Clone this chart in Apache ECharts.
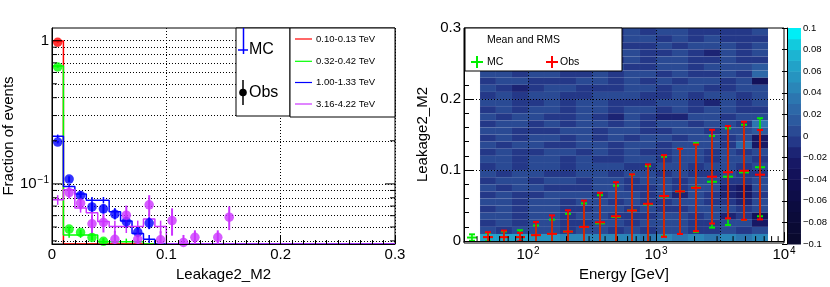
<!DOCTYPE html>
<html><head><meta charset="utf-8">
<script src="https://cdn.jsdelivr.net/npm/echarts@6/dist/echarts.min.js"></script>
<style>html,body{margin:0;padding:0;background:#fff}#c{width:830px;height:287px}</style>
</head><body><div id="c"></div>
<script>
const FONT = 'Liberation Sans, Arial, Helvetica, sans-serif';

// ---------------- Left panel: Leakage2_M2 distributions ----------------
const leakBin = 0.01;           // bin width
const nLeakBins = 30;           // 0 .. 0.3
const energyLabels = ['0.10-0.13 TeV', '0.32-0.42 TeV', '1.00-1.33 TeV', '3.16-4.22 TeV'];
const colors = ['#ff0000', '#00ff00', '#0000ff', '#cc33ff'];

const mcRed      = [0.995];
const mcRedErr   = [0.006];
const obsRed     = [0.975];
const obsRedErr  = [0.006];

const mcGreen     = [0.665, 0.044, 0.044, 0.044, 0.0395, 0.0395, 0.0395, 0.0395];
const mcGreenErr  = [0.008, 0.002, 0.002, 0.002, 0.002, 0.002, 0.002, 0.002];
const obsGreen    = [0.655, 0.0484, 0.0458, 0.0423, 0.0397];
const obsGreenErr = [0.008, 0.002, 0.002, 0.002, 0.002];

const mcBlue     = [0.215, 0.096, 0.085, 0.077, 0.077, 0.064, 0.055, 0.045, 0.041];
const mcBlueErr  = [0.006, 0.004, 0.004, 0.004, 0.004, 0.004, 0.004, 0.003, 0.003];
const obsBlue    = [0.196, 0.108, 0.083, 0.069, 0.067, 0.0615, 0.0546, 0.046, 0.0533];
const obsBlueErr = [0.004, 0.005, 0.005, 0.005, 0.005, 0.005, 0.005, 0.004, 0.005];

const mcMag     = [0.0774, 0.091, 0.068, 0.063, 0.0546, 0.0504, 0.0504, 0.0504, 0.0568, 0.0504];
const mcMagErr  = [0.006, 0.006, 0.005, 0.005, 0.005, 0.005, 0.005, 0.005, 0.005, 0.005];
const obsMag    = [0, 0.087, 0.0734, 0.0527, 0.0538, 0.041, 0.0605, 0.041, 0.0714, 0.0407, 0.0555, 0.039, 0.0424, 0, 0.0424, 0.0586];
const obsMagErr = [0, 0.008, 0.007, 0.008, 0.008, 0.006, 0.010, 0.007, 0.012, 0.006, 0.012, 0.005, 0.005, 0, 0.005, 0.011];

const yMinL = 0.03805, yMaxL = 1.226;
const leftGridVals = [0.04, 0.05, 0.06, 0.07, 0.08, 0.09, 0.1, 0.2, 0.3, 0.4, 0.5, 0.6, 0.7, 0.8, 0.9, 1];

// ---------------- Right panel: mean & RMS vs energy ----------------
const energyGeV = [36.5, 48.7, 64.9, 86.6, 115.5, 154.0, 205.4, 273.8, 365.2, 487.0, 649.4, 866.0, 1154.8, 1539.9, 2053.5, 2738.4, 3651.7, 4869.7, 6493.8];
const mcMean = [0.005, 0.0056, 0.0056, 0.0056, 0.0084, 0.0102, 0.0134, 0.020, 0.025, 0.034, 0.043, 0.0516, 0.0628, 0.070, 0.0755, 0.0835, 0.0907, 0.0967, 0.104];
const mcRms  = [0.0045, 0.006, 0.008, 0.0097, 0.0136, 0.020, 0.025, 0.033, 0.0396, 0.044, 0.0505, 0.054, 0.056, 0.060, 0.0625, 0.0645, 0.068, 0.067, 0.069];
const obsMean = [null, 0.0056, 0.0056, 0.0056, 0.0084, 0.0102, 0.0134, 0.020, 0.0265, 0.035, 0.043, 0.0525, 0.0635, 0.070, 0.075, 0.0907, 0.097, 0.099, 0.0935];
const obsRms  = [null, 0.007, 0.0092, 0.006, 0.0186, 0.026, 0.030, 0.037, 0.0415, 0.048, 0.051, 0.0555, 0.0575, 0.060, 0.061, 0.066, 0.065, 0.069, 0.063];

// heat map (difference) : column edges in GeV, rows of 0.01 in Leakage2_M2
const heatXEdges = [42.2, 56.2, 75.0, 100, 133.4, 177.8, 237.1, 316.2, 421.7, 562.3, 749.9, 1000, 1333.5, 1778.3, 2371.4, 3162.3, 4217, 5623.4, 7498.9];
const heatYStep = 0.01;
// level codes: a=-0.035 b=-0.025 c=-0.015 d=-0.005 e=0.005 f=0.015 g=0.025 h=0.035 i=0.045 j=0.055 k=0.065
const heatCodes = { a: -0.035, b: -0.025, c: -0.015, d: -0.005, e: 0.005, f: 0.015, g: 0.025, h: 0.035, i: 0.045, j: 0.055, k: 0.065 };
const heatRowsTopDown = [
  'eddedeeddedeedddde',
  'dedeededdeedededdd',
  'edeeddeedddedeeede',
  'deddeedeeeddedcede',
  'eedeededdedeeddedd',
  'dedeedededdeedeeef',
  'eedeeddedeededdedg',
  'deedddeedededeedea',
  'edcdeedddeedeeddee',
  'dedeeddeeeddedeede',
  'eeddedeedddeedcede',
  'dedeedeedeededeedd',
  'edeeddedcedcceedee',
  'deededeededeedeedh',
  'eedddeedeeddeedeef',
  'dedeedededeedeedeb',
  'edeeddeedeedeeedgb',
  'deddeedededdeedede',
  'eedeededdeedeedeed',
  'dedeedeeeddeedeede',
  'edeeddeedeededdedd',
  'deedeedeedeedeedde',
  'edeedddeeddedeecbe',
  'deddeeedeedecedcbd',
  'eedeedeededdeeddce',
  'dedeeddeededdeeede',
  'eedeedeedddeedecda',
  'dedeeddeedeeeddeeb',
  'edeeedeededeeddede',
  'kkkjjiiiiihihihihi'
];
const energyVGrid = [100, 316.2, 1000, 3162.3];
const logMinorE = [40, 50, 60, 70, 80, 90, 200, 300, 400, 500, 600, 700, 800, 900, 2000, 3000, 4000, 5000, 6000, 7000, 8000, 9000];

// colour scale
const zLevels = [-0.1, -0.09, -0.08, -0.07, -0.06, -0.05, -0.04, -0.03, -0.02, -0.01, 0, 0.01, 0.02, 0.03, 0.04, 0.05, 0.06, 0.07, 0.08, 0.09, 0.1];
const zColors = ['#09092e', '#0a0a34', '#0b0b3a', '#0c0c40', '#0e0d48', '#100e50', '#13125a', '#171865', '#1c2474', '#243888',
                 '#2a4a94', '#2c5a9f', '#2d68a8', '#2c76b0', '#2a86b8', '#2694c0', '#22a2c8', '#1cb4d2', '#12cadd', '#00eef6'];

// ---------------- build ----------------
function stepPts(vals) {
  const pts = [];
  for (let i = 0; i < nLeakBins; i++) { const v = vals[i] || 0; pts.push([i * leakBin, v > 0 ? v : yMinL]); }
  const last = vals[nLeakBins - 1] || 0;
  pts.push([nLeakBins * leakBin, last > 0 ? last : yMinL]);
  return pts;
}
function errPts(vals, errs) {
  const out = [];
  vals.forEach((v, i) => { if (v > 0 && errs[i] > 0) out.push([(i + 0.5) * leakBin, v, errs[i]]); });
  return out;
}
function dotPts(vals) {
  const out = [];
  vals.forEach((v, i) => { if (v > 0) out.push([(i + 0.5) * leakBin, v]); });
  return out;
}
function vErrRender(color, lw) {
  return function (params, api) {
    const x = api.value(0), v = api.value(1), e = api.value(2);
    const a = api.coord([x, v - e]), b = api.coord([x, v + e]);
    return { type: 'line', shape: { x1: a[0], y1: a[1], x2: b[0], y2: b[1] }, style: { stroke: color, lineWidth: lw } };
  };
}

const sets = [
  [mcRed, mcRedErr, obsRed, obsRedErr],
  [mcGreen, mcGreenErr, obsGreen, obsGreenErr],
  [mcBlue, mcBlueErr, obsBlue, obsBlueErr],
  [mcMag, mcMagErr, obsMag, obsMagErr]
];

const series = [];
// grid lines left (dotted)
series.push({
  type: 'line', xAxisIndex: 0, yAxisIndex: 0, data: [], silent: true,
  markLine: {
    silent: true, symbol: ['none', 'none'], animation: false, label: { show: false },
    lineStyle: { color: '#000', width: 1, type: [1, 2] },
    data: leftGridVals.map(v => ({ yAxis: v }))
  }
});
// left minor ticks (log)
series.push({
  type: 'custom', xAxisIndex: 0, yAxisIndex: 0, z: 9, silent: true,
  data: leftGridVals.map(v => [0, v]),
  renderItem: function (params, api) {
    const v = api.value(1);
    const l = api.coord([0, v]), r = api.coord([0.3, v]);
    const len = (Math.abs(v - 0.1) < 1e-9 || Math.abs(v - 1) < 1e-9) ? 10 : 5;
    return { type: 'group', children: [
      { type: 'line', shape: { x1: l[0], y1: l[1], x2: l[0] + len, y2: l[1] }, style: { stroke: '#000', lineWidth: 1 } },
      { type: 'line', shape: { x1: r[0], y1: r[1], x2: r[0] - len, y2: r[1] }, style: { stroke: '#000', lineWidth: 1 } }
    ] };
  }
});
sets.forEach((s, k) => {
  series.push({
    type: 'line', xAxisIndex: 0, yAxisIndex: 0, step: 'end', data: stepPts(s[0]), showSymbol: false, z: 6,
    lineStyle: { color: colors[k], width: 1.5 }, silent: true, animation: false
  });
  series.push({
    type: 'custom', xAxisIndex: 0, yAxisIndex: 0, data: errPts(s[0], s[1]), z: 6, clip: true, silent: true,
    renderItem: vErrRender(colors[k], 1.5)
  });
});
sets.forEach((s, k) => {
  series.push({
    type: 'custom', xAxisIndex: 0, yAxisIndex: 0, data: errPts(s[2], s[3]), z: 7, clip: true, silent: true,
    renderItem: vErrRender(colors[k], 2)
  });
  series.push({
    type: 'scatter', xAxisIndex: 0, yAxisIndex: 0, data: dotPts(s[2]), symbol: 'circle', symbolSize: 9.5, z: 8,
    itemStyle: { color: colors[k] }, silent: true, animation: false
  });
});

// heat map cells
const heatData = [];
const nRows = heatRowsTopDown.length;
heatRowsTopDown.forEach((row, ri) => {
  const r = nRows - 1 - ri;
  for (let c = 0; c < row.length; c++) {
    heatData.push([heatXEdges[c], heatXEdges[c + 1], r * heatYStep, (r + 1) * heatYStep, heatCodes[row[c]]]);
  }
});
const heatIdx = series.length;
series.push({
  type: 'custom', xAxisIndex: 1, yAxisIndex: 1, data: heatData, z: 1, clip: true, silent: true,
  encode: { x: [0, 1], y: [2, 3] },
  renderItem: function (params, api) {
    const p0 = api.coord([api.value(0), api.value(2)]);
    const p1 = api.coord([api.value(1), api.value(3)]);
    return { type: 'rect', shape: { x: p0[0], y: p1[1], width: p1[0] - p0[0], height: p0[1] - p1[1] },
      style: { fill: api.visual('color'), stroke: 'rgba(120,150,210,0.08)', lineWidth: 0.5 } };
  }
});
// right grid lines
series.push({
  type: 'line', xAxisIndex: 1, yAxisIndex: 1, data: [], silent: true,
  markLine: {
    silent: true, symbol: ['none', 'none'], animation: false, label: { show: false },
    lineStyle: { color: '#000', width: 1, type: [1, 2] },
    data: energyVGrid.map(v => ({ xAxis: v })).concat([{ yAxis: 0.1 }, { yAxis: 0.2 }])
  }
});
function meanRmsRender(color) {
  return function (params, api) {
    const x = api.value(0), m = api.value(1), r = api.value(2);
    const pm = api.coord([x, m]), pt = api.coord([x, m + r]), pb = api.coord([x, m - r]);
    const L = (x1, y1, x2, y2, w) => ({ type: 'line', shape: { x1, y1, x2, y2 }, style: { stroke: color, lineWidth: w } });
    return { type: 'group', children: [
      L(pt[0], pt[1], pb[0], pb[1], 1.6),
      L(pt[0] - 3, pt[1], pt[0] + 3, pt[1], 2),
      L(pb[0] - 3, pb[1], pb[0] + 3, pb[1], 2),
      L(pm[0] - 5, pm[1], pm[0] + 5, pm[1], 2)
    ] };
  };
}
series.push({
  type: 'custom', xAxisIndex: 1, yAxisIndex: 1, z: 6, clip: true, silent: true,
  data: energyGeV.map((e, i) => [e, mcMean[i], mcRms[i]]),
  renderItem: meanRmsRender('#00ee00')
});
series.push({
  type: 'custom', xAxisIndex: 1, yAxisIndex: 1, z: 7, clip: true, silent: true,
  data: energyGeV.map((e, i) => [e, obsMean[i], obsRms[i]]).filter(d => d[1] != null),
  renderItem: meanRmsRender('#ff0000')
});
// right minor x ticks
series.push({
  type: 'custom', xAxisIndex: 1, yAxisIndex: 1, z: 11, silent: true,
  data: logMinorE.map(e => [e, 0]),
  renderItem: function (params, api) {
    const p = api.coord([api.value(0), 0]);
    return { type: 'line', shape: { x1: p[0], y1: p[1], x2: p[0], y2: p[1] - 5 }, style: { stroke: '#000', lineWidth: 1 } };
  }
});
// colour bar
const cbarIdx = series.length;
const cbarData = [];
for (let i = 0; i < zColors.length; i++) cbarData.push([0, 1, zLevels[i], zLevels[i + 1], (zLevels[i] + zLevels[i + 1]) / 2]);
series.push({
  type: 'custom', xAxisIndex: 2, yAxisIndex: 2, data: cbarData, z: 1, silent: true,
  encode: { x: [0, 1], y: [2, 3] },
  renderItem: function (params, api) {
    const p0 = api.coord([api.value(0), api.value(2)]);
    const p1 = api.coord([api.value(1), api.value(3)]);
    return { type: 'rect', shape: { x: p0[0], y: p1[1], width: p1[0] - p0[0], height: p0[1] - p1[1] + 0.5 }, style: { fill: api.visual('color') } };
  }
});

const pieces = zColors.map((c, i) => ({ min: zLevels[i], max: zLevels[i + 1], color: c }));

const txt = { color: '#000', fontFamily: FONT };
const supRich = { s: { fontSize: 10, fontFamily: FONT, color: '#000', verticalAlign: 'top', lineHeight: 10, padding: [0, 0, 0, 1] }, b: { fontSize: 15, fontFamily: FONT, color: '#000', lineHeight: 17 } };
function fmtNum(v) { const s = String(+Math.abs(v).toFixed(2)); return v < 0 ? '\u2212' + s : s; }

const option = {
  animation: false,
  backgroundColor: '#fff',
  grid: [
    { left: 49, top: 28, width: 346, height: 216, show: true, borderColor: '#000', borderWidth: 1, backgroundColor: 'transparent' },
    { left: 464, top: 28, width: 320, height: 215, show: false },
    { left: 787, top: 28, width: 18, height: 216, show: false }
  ],
  visualMap: [{ type: 'piecewise', show: false, dimension: 4, seriesIndex: [heatIdx, cbarIdx], pieces: pieces }],
  xAxis: [
    { gridIndex: 0, type: 'value', min: 0, max: 0.3, interval: 0.1, z: 10,
      name: 'Leakage2_M2', nameLocation: 'middle', nameGap: 21, nameTextStyle: Object.assign({ fontSize: 15 }, txt),
      axisLine: { lineStyle: { color: '#000' } },
      axisTick: { inside: true, length: 9, lineStyle: { color: '#000' } },
      minorTick: { show: true, splitNumber: 10, length: 4, lineStyle: { color: '#000' } },
      axisLabel: Object.assign({ fontSize: 15, margin: 3, formatter: v => fmtNum(v) }, txt),
      splitLine: { show: true, lineStyle: { color: '#000', type: [1, 2] } } },
    { gridIndex: 1, type: 'log', logBase: 10, min: 31.6228, max: 10000, z: 10,
      name: 'Energy [GeV]', nameLocation: 'middle', nameGap: 22, nameTextStyle: Object.assign({ fontSize: 15 }, txt),
      axisLine: { lineStyle: { color: '#000' } },
      axisTick: { inside: true, length: 9, lineStyle: { color: '#000' } },
      axisLabel: { margin: 5, showMinLabel: false, formatter: v => '{b|10}{s|' + Math.round(Math.log10(v)) + '}', rich: supRich },
      splitLine: { show: false } },
    { gridIndex: 2, type: 'value', min: 0, max: 1, show: false }
  ],
  yAxis: [
    { gridIndex: 0, type: 'log', logBase: 10, min: yMinL, max: yMaxL, z: 10,
      name: 'Fraction of events', nameLocation: 'middle', nameGap: 30, nameTextStyle: Object.assign({ fontSize: 15 }, txt),
      axisLine: { lineStyle: { color: '#000' } },
      axisTick: { show: false },
      axisLabel: { margin: 3, showMinLabel: false, showMaxLabel: false,
        formatter: v => (Math.abs(v - 1) < 1e-6 ? '{b|1}' : '{b|10}{s|\u22121}'), rich: supRich },
      splitLine: { show: false } },
    { gridIndex: 1, type: 'value', min: 0, max: 0.3, interval: 0.1, z: 10,
      name: 'Leakage2_M2', nameLocation: 'middle', nameGap: 34, nameTextStyle: Object.assign({ fontSize: 15 }, txt),
      axisLine: { lineStyle: { color: '#000' } },
      axisTick: { inside: true, length: 9, lineStyle: { color: '#000' } },
      minorTick: { show: true, splitNumber: 5, length: 5, lineStyle: { color: '#000' } },
      axisLabel: Object.assign({ fontSize: 15, margin: 3, formatter: v => fmtNum(v) }, txt),
      splitLine: { show: false } },
    { gridIndex: 2, type: 'value', min: -0.1, max: 0.1, interval: 0.02, position: 'right', z: 10,
      axisLine: { show: true, lineStyle: { color: '#000' } },
      axisTick: { show: true, inside: true, length: 5, lineStyle: { color: '#000' } },
      axisLabel: Object.assign({ fontSize: 9.5, margin: 2, formatter: v => (Math.abs(v) < 1e-9 ? '0' : fmtNum(v)) }, txt),
      splitLine: { show: false } }
  ],
  series: series,
  graphic: [
    // right frame
    { type: 'rect', z: 50, silent: true, shape: { x: 464, y: 28, width: 320, height: 215 }, style: { fill: 'none', stroke: '#000', lineWidth: 1 } },
    // left legend box 1
    { type: 'rect', z: 60, silent: true, shape: { x: 236, y: 28, width: 54, height: 88 }, style: { fill: '#fff', stroke: '#000', lineWidth: 1 } },
    { type: 'line', z: 61, shape: { x1: 243.5, y1: 28, x2: 243.5, y2: 54 }, style: { stroke: colors[2], lineWidth: 1.5 } },
    { type: 'line', z: 61, shape: { x1: 238, y1: 50, x2: 248, y2: 50 }, style: { stroke: colors[2], lineWidth: 1.5 } },
    { type: 'text', z: 61, style: { x: 249, y: 50, text: 'MC', font: '16px ' + FONT, fill: '#000', textVerticalAlign: 'middle' } },
    { type: 'line', z: 61, shape: { x1: 243, y1: 80, x2: 243, y2: 105 }, style: { stroke: '#000', lineWidth: 1.5 } },
    { type: 'circle', z: 62, shape: { cx: 243, cy: 92.5, r: 3.8 }, style: { fill: '#000' } },
    { type: 'text', z: 61, style: { x: 249, y: 93, text: 'Obs', font: '16px ' + FONT, fill: '#000', textVerticalAlign: 'middle' } },
    // left legend box 2
    { type: 'rect', z: 60, silent: true, shape: { x: 290, y: 28, width: 105, height: 89 }, style: { fill: '#fff', stroke: '#000', lineWidth: 1 } }
  ].concat(energyLabels.flatMap((lab, i) => {
    const y = [39, 61.3, 82.5, 104][i];
    return [
      { type: 'line', z: 61, shape: { x1: 295, y1: y, x2: 312, y2: y }, style: { stroke: colors[i], lineWidth: 1.2 } },
      { type: 'text', z: 61, style: { x: 316, y: y, text: lab, font: '9.5px ' + FONT, fill: '#000', textVerticalAlign: 'middle' } }
    ];
  })).concat([
    // right legend
    { type: 'rect', z: 60, silent: true, shape: { x: 465, y: 28, width: 157, height: 43 }, style: { fill: '#fff', stroke: '#000', lineWidth: 1 } },
    { type: 'text', z: 61, style: { x: 487, y: 40.5, text: 'Mean and RMS', font: '10.5px ' + FONT, fill: '#000', textVerticalAlign: 'middle' } },
    { type: 'line', z: 61, shape: { x1: 471, y1: 62, x2: 483, y2: 62 }, style: { stroke: '#00ee00', lineWidth: 2 } },
    { type: 'line', z: 61, shape: { x1: 477, y1: 56, x2: 477, y2: 68 }, style: { stroke: '#00ee00', lineWidth: 2 } },
    { type: 'text', z: 61, style: { x: 487, y: 62, text: 'MC', font: '10.5px ' + FONT, fill: '#000', textVerticalAlign: 'middle' } },
    { type: 'line', z: 61, shape: { x1: 546, y1: 62, x2: 558, y2: 62 }, style: { stroke: '#ff0000', lineWidth: 2 } },
    { type: 'line', z: 61, shape: { x1: 552, y1: 56, x2: 552, y2: 68 }, style: { stroke: '#ff0000', lineWidth: 2 } },
    { type: 'text', z: 61, style: { x: 560, y: 62, text: 'Obs', font: '10.5px ' + FONT, fill: '#000', textVerticalAlign: 'middle' } }
  ])
};

const chart = echarts.init(document.getElementById('c'), null, { renderer: 'canvas' });
chart.setOption(option);
</script>
</body></html>
